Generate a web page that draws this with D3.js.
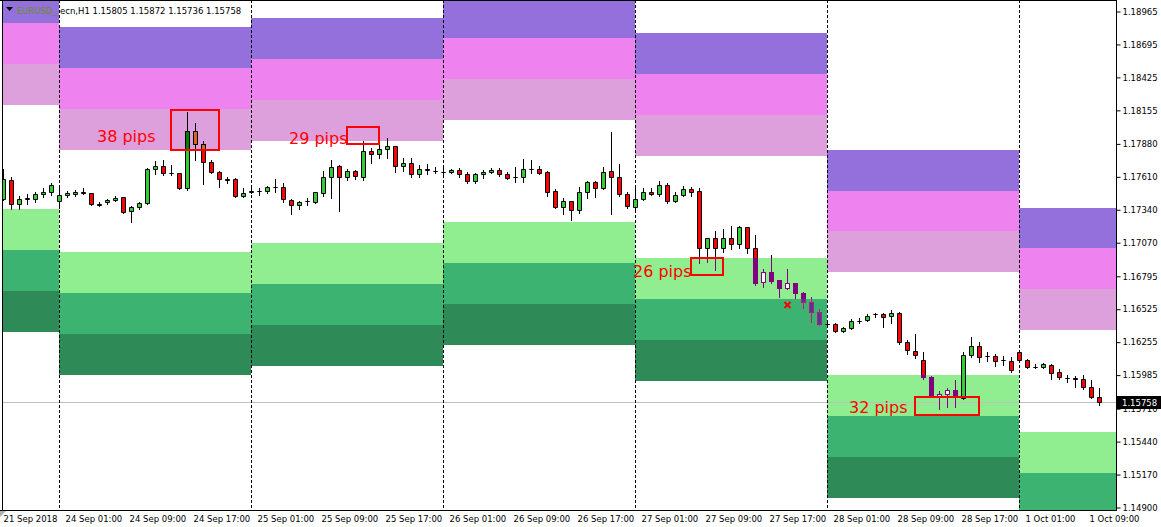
<!DOCTYPE html>
<html><head><meta charset="utf-8">
<script src="https://cdn.jsdelivr.net/npm/d3@7"></script>
<style>
body{margin:0;background:#fff;overflow:hidden;}
svg{display:block;}
text{font-family:"DejaVu Sans",Verdana,sans-serif;}
</style>
</head><body>
<svg id="c" width="1161" height="527"></svg>
<script>
// ---------------- DATA ----------------
const symbolName = "EURUSD_";
const headerText = "ecn,H1  1.15805 1.15872 1.15736 1.15758";
const opens = [1.17424,1.17580,1.17383,1.17424,1.17424,1.17465,1.17481,1.17408,1.17457,1.17465,
1.17481,1.17473,1.17383,1.17399,1.17416,1.17440,1.17326,1.17358,1.17391,1.17670,
1.17694,1.17637,1.17637,1.17514,1.17981,1.17875,1.17727,1.17645,1.17588,1.17588,
1.17449,1.17481,1.17490,1.17490,1.17522,1.17522,1.17416,1.17375,1.17408,1.17399,
1.17473,1.17604,1.17694,1.17604,1.17654,1.17604,1.17817,1.17793,1.17834,1.17858,
1.17694,1.17719,1.17629,1.17670,1.17654,1.17645,1.17645,1.17662,1.17629,1.17572,
1.17629,1.17645,1.17662,1.17629,1.17604,1.17604,1.17670,1.17670,1.17645,1.17490,
1.17358,1.17408,1.17334,1.17481,1.17563,1.17514,1.17654,1.17604,1.17465,1.17358,
1.17424,1.17481,1.17465,1.17539,1.17408,1.17457,1.17506,1.17490,1.17022,1.17104,
1.17022,1.17104,1.17055,1.17195,1.17022,1.16744,1.16826,1.16760,1.16695,1.16736,
1.16654,1.16580,1.16498,1.16400,1.16400,1.16342,1.16367,1.16424,1.16432,1.16481,
1.16481,1.16465,1.16490,1.16252,1.16178,1.16104,1.15965,1.15809,1.15826,1.15859,
1.15793,1.16145,1.16219,1.16137,1.16137,1.16104,1.16096,1.16170,1.16104,1.16047,
1.16047,1.16063,1.16006,1.15957,1.15957,1.15949,1.15883,1.15805];
const highs = [1.17670,1.17604,1.17449,1.17465,1.17481,1.17514,1.17555,1.17514,1.17490,1.17498,
1.17514,1.17473,1.17399,1.17424,1.17449,1.17440,1.17367,1.17399,1.17678,1.17735,
1.17744,1.17703,1.17637,1.18137,1.18047,1.17899,1.17744,1.17654,1.17604,1.17596,
1.17514,1.17514,1.17514,1.17531,1.17588,1.17555,1.17424,1.17408,1.17432,1.17481,
1.17654,1.17744,1.17703,1.17670,1.17662,1.17899,1.17842,1.17867,1.17924,1.17858,
1.17760,1.17760,1.17703,1.17711,1.17686,1.17678,1.17670,1.17678,1.17645,1.17637,
1.17662,1.17678,1.17678,1.17645,1.17686,1.17752,1.17744,1.17694,1.17654,1.17506,
1.17432,1.17408,1.17522,1.17572,1.17572,1.17686,1.17973,1.17711,1.17481,1.17514,
1.17514,1.17514,1.17572,1.17555,1.17481,1.17531,1.17522,1.17514,1.17104,1.17162,
1.17178,1.17203,1.17203,1.17195,1.17129,1.16850,1.16965,1.16760,1.16850,1.16736,
1.16662,1.16621,1.16522,1.16416,1.16408,1.16375,1.16440,1.16449,1.16481,1.16490,
1.16490,1.16514,1.16498,1.16268,1.16318,1.16170,1.15973,1.15850,1.15875,1.15941,
1.16170,1.16293,1.16252,1.16170,1.16154,1.16137,1.16129,1.16186,1.16113,1.16072,
1.16080,1.16072,1.16031,1.15982,1.15973,1.15982,1.15941,1.15872];
const lows = [1.17416,1.17342,1.17342,1.17383,1.17399,1.17440,1.17457,1.17350,1.17440,1.17449,
1.17465,1.17375,1.17367,1.17383,1.17408,1.17309,1.17236,1.17342,1.17383,1.17629,
1.17621,1.17621,1.17506,1.17498,1.17744,1.17547,1.17637,1.17522,1.17555,1.17440,
1.17440,1.17473,1.17457,1.17473,1.17481,1.17399,1.17301,1.17342,1.17375,1.17391,
1.17449,1.17432,1.17326,1.17580,1.17588,1.17580,1.17719,1.17760,1.17760,1.17645,
1.17654,1.17604,1.17604,1.17629,1.17637,1.17621,1.17637,1.17604,1.17555,1.17555,
1.17596,1.17637,1.17613,1.17588,1.17563,1.17563,1.17637,1.17629,1.17449,1.17350,
1.17301,1.17252,1.17309,1.17432,1.17440,1.17506,1.17301,1.17449,1.17350,1.17342,
1.17416,1.17457,1.17449,1.17391,1.17399,1.17449,1.17449,1.16899,1.16908,1.16842,
1.16990,1.17014,1.17022,1.16981,1.16719,1.16703,1.16736,1.16621,1.16686,1.16613,
1.16531,1.16416,1.16391,1.16383,1.16334,1.16334,1.16359,1.16408,1.16424,1.16457,
1.16375,1.16408,1.16236,1.16154,1.16121,1.15949,1.15809,1.15703,1.15719,1.15719,
1.15785,1.16129,1.16088,1.16096,1.16055,1.16063,1.16006,1.16088,1.16039,1.16039,
1.16039,1.15949,1.15949,1.15924,1.15883,1.15867,1.15793,1.15736];
const closes = [1.17588,1.17383,1.17424,1.17432,1.17465,1.17481,1.17539,1.17457,1.17473,1.17481,
1.17473,1.17383,1.17375,1.17416,1.17432,1.17317,1.17358,1.17391,1.17670,1.17694,
1.17637,1.17635,1.17514,1.17981,1.17875,1.17727,1.17645,1.17588,1.17580,1.17449,
1.17473,1.17490,1.17488,1.17522,1.17520,1.17424,1.17375,1.17399,1.17406,1.17481,
1.17604,1.17686,1.17604,1.17654,1.17613,1.17817,1.17793,1.17834,1.17858,1.17694,
1.17719,1.17629,1.17670,1.17662,1.17652,1.17643,1.17662,1.17629,1.17572,1.17629,
1.17645,1.17662,1.17629,1.17596,1.17602,1.17670,1.17668,1.17637,1.17481,1.17358,
1.17408,1.17334,1.17481,1.17563,1.17514,1.17645,1.17604,1.17465,1.17367,1.17424,
1.17481,1.17465,1.17539,1.17408,1.17457,1.17506,1.17481,1.17022,1.17104,1.17022,
1.17104,1.17055,1.17195,1.17022,1.16736,1.16826,1.16752,1.16695,1.16736,1.16654,
1.16580,1.16498,1.16400,1.16398,1.16342,1.16367,1.16424,1.16422,1.16465,1.16479,
1.16457,1.16490,1.16252,1.16186,1.16145,1.15965,1.15818,1.15826,1.15859,1.15801,
1.16145,1.16219,1.16129,1.16135,1.16096,1.16102,1.16023,1.16104,1.16047,1.16045,
1.16072,1.15998,1.15965,1.15955,1.15949,1.15883,1.15801,1.15758];

const timeLabels = ["21 Sep 2018","24 Sep 01:00","24 Sep 09:00","24 Sep 17:00","25 Sep 01:00","25 Sep 09:00",
"25 Sep 17:00","26 Sep 01:00","26 Sep 09:00","26 Sep 17:00","27 Sep 01:00","27 Sep 09:00","27 Sep 17:00",
"28 Sep 01:00","28 Sep 09:00","28 Sep 17:00","1 Oct 01:00","1 Oct 09:00"];
const timeLabelBars = [0,7,15,23,31,39,47,55,63,71,79,87,95,103,111,119,127,135];
const priceTicks = [1.18965,1.18695,1.18425,1.18155,1.17880,1.17610,1.17340,1.17070,1.16795,
1.16525,1.16255,1.15985,1.15710,1.15440,1.15170,1.14900];
const bidPrice = 1.15758;

// daily zones: bar range, supply band edges (top->bottom), demand band edges (top->bottom)
const zoneStartBar = [-1,7,31,55,79,103,127];
const zoneEndBar   = [7,31,55,79,103,127,141];
const supplyLevels = [
 [1.19203,1.18867,1.18531,1.18194],
 [1.18834,1.18498,1.18162,1.17826],
 [1.18908,1.18571,1.18235,1.17899],
 [1.19080,1.18744,1.18408,1.18072],
 [1.18785,1.18449,1.18112,1.17776],
 [1.17826,1.17490,1.17162,1.16826],
 [1.17350,1.17022,1.16686,1.16350]];
const demandLevels = [
 [1.17342,1.17006,1.16670,1.16334],
 [1.16990,1.16654,1.16318,1.15982],
 [1.17063,1.16727,1.16391,1.16055],
 [1.17236,1.16900,1.16563,1.16227],
 [1.16940,1.16604,1.16268,1.15932],
 [1.15982,1.15645,1.15309,1.14973],
 [1.15514,1.15178,1.14842,1.14506]];

// annotation boxes
const pipBoxBar0 = [21,43,86,114];
const pipBoxBar1 = [27,47,90,122];
const pipBoxHigh = [1.18153,1.18014,1.16940,1.15801];
const pipBoxLow  = [1.17826,1.17875,1.16801,1.15654];
const pipLabels  = ["38 pips","29 pips","26 pips","32 pips"];
const pipLabelBar = [11.75,35.75,78.75,105.75];
const pipLabelPrice = [1.17891,1.17875,1.16785,1.15670];
const crossBar = 98, crossPrice = 1.16555;

// ---------------- DRAW ----------------
const PL=2, PT=0, PR=1116, PB=510;
const x = d3.scaleLinear().domain([0,137]).range([3,1099]);
const y = d3.scaleLinear().domain([1.18965,1.14900]).range([11,507]);
const svg = d3.select("#c");
svg.append("rect").attr("width",1161).attr("height",527).attr("fill","#fff");
const defs = svg.append("defs");
defs.append("clipPath").attr("id","plotClip").append("rect")
  .attr("x",PL).attr("y",PT).attr("width",PR-PL).attr("height",PB-PT);
const g = svg.append("g").attr("clip-path","url(#plotClip)");

const supplyColors = ["#9370DB","#EE82EE","#DDA0DD"];
const demandColors = ["#90EE90","#3CB371","#2E8B57"];
const ry = v => Math.round(y(v));

zoneStartBar.forEach((s,k)=>{
  const x0 = Math.round(x(s)), x1 = Math.round(x(zoneEndBar[k]));
  for(let b=0;b<3;b++){
    const s0=ry(supplyLevels[k][b]), s1=ry(supplyLevels[k][b+1]);
    g.append("rect").attr("x",x0).attr("y",s0).attr("width",x1-x0).attr("height",s1-s0).attr("fill",supplyColors[b]);
    const d0=ry(demandLevels[k][b]), d1=ry(demandLevels[k][b+1]);
    g.append("rect").attr("x",x0).attr("y",d0).attr("width",x1-x0).attr("height",d1-d0).attr("fill",demandColors[b]);
  }
});

// bid line
g.append("line").attr("x1",PL).attr("x2",PR).attr("y1",ry(bidPrice)+0.5).attr("y2",ry(bidPrice)+0.5)
  .attr("stroke","#C0C0C0").attr("stroke-width",1);

// separators
zoneStartBar.slice(1).forEach(s=>{
  const xx = Math.round(x(s))+0.5;
  g.append("line").attr("x1",xx).attr("x2",xx).attr("y1",PT).attr("y2",PB)
   .attr("stroke","#000").attr("stroke-width",1).attr("stroke-dasharray","3,2");
});

// candles
const bars = d3.range(opens.length);
function bodyPath(i){
  const cx = Math.round(x(i));
  const t = ry(Math.max(opens[i],closes[i]))+0.5, b = ry(Math.min(opens[i],closes[i]))+0.5;
  return `M${cx-1.5},${t}H${cx+2.5}V${b}H${cx-1.5}Z`;
}
function drawCandles(sel, idx, style){
  sel.selectAll(null).data(idx).enter().append("line")
    .attr("x1",i=>Math.round(x(i))+0.5).attr("x2",i=>Math.round(x(i))+0.5)
    .attr("y1",i=>ry(highs[i])).attr("y2",i=>ry(lows[i])+1)
    .attr("stroke",style.wick).attr("stroke-width",1);
  sel.selectAll(null).data(idx).enter().append("path")
    .attr("d",bodyPath)
    .attr("fill",i=>closes[i]>=opens[i]?style.bull:style.bear)
    .attr("stroke",style.edge).attr("stroke-width",1);
}
drawCandles(g, bars, {wick:"#000",edge:"#000",bull:"#32CD32",bear:"#FF0000"});

// candle parts inside zones
const bandStyles = [
  {wick:"#800080",edge:"#800080",bull:"#FFFFFF",bear:"#800080"},
  {wick:"#C71585",edge:"#C71585",bull:"#FFFFFF",bear:"#483D8B"},
  {wick:"#C71585",edge:"#C71585",bull:"#FFFFFF",bear:"#483D8B"}];
zoneStartBar.forEach((s,k)=>{
  const idx = bars.filter(i=>i>=s && i<zoneEndBar[k]);
  const x0 = Math.round(x(s)), x1 = Math.round(x(zoneEndBar[k]));
  const sid = "sz"+k;
  defs.append("clipPath").attr("id",sid).append("rect").attr("x",x0).attr("width",x1-x0)
    .attr("y",ry(supplyLevels[k][0])).attr("height",ry(supplyLevels[k][3])-ry(supplyLevels[k][0]));
  drawCandles(g.append("g").attr("clip-path",`url(#${sid})`), idx, {wick:"#000",edge:"#000",bull:"#008000",bear:"#D2691E"});
  for(let b=0;b<3;b++){
    const did = "dz"+k+"_"+b;
    defs.append("clipPath").attr("id",did).append("rect").attr("x",x0).attr("width",x1-x0)
      .attr("y",ry(demandLevels[k][b])).attr("height",ry(demandLevels[k][b+1])-ry(demandLevels[k][b]));
    drawCandles(g.append("g").attr("clip-path",`url(#${did})`), idx.filter(i=>closes[i]<opens[i]||i!==120), bandStyles[b]);
  }
});

// pip boxes
pipLabels.forEach((lab,k)=>{
  const x0=Math.round(x(pipBoxBar0[k])), x1=Math.round(x(pipBoxBar1[k]));
  const y0=ry(pipBoxHigh[k]), y1=ry(pipBoxLow[k]);
  g.append("rect").attr("x",x0).attr("y",y0).attr("width",x1-x0).attr("height",y1-y0)
    .attr("fill","none").attr("stroke","#FF0000").attr("stroke-width",2);
  g.append("text").attr("x",x(pipLabelBar[k])).attr("y",y(pipLabelPrice[k]))
    .attr("font-family","'Liberation Sans',Arial,sans-serif").attr("font-size",16).attr("fill","#FF0000").text(lab);
});
// cross marker
{
  const cx=x(crossBar)+0.5, cy=y(crossPrice);
  g.append("path").attr("d",`M${cx-3},${cy-3}L${cx+3},${cy+3}M${cx+3},${cy-3}L${cx-3},${cy+3}`)
   .attr("stroke","#FF0000").attr("stroke-width",2);
}

// frame
svg.append("line").attr("x1",PL+0.5).attr("x2",PL+0.5).attr("y1",PT).attr("y2",PB).attr("stroke","#000");
svg.append("line").attr("x1",0).attr("x2",PR).attr("y1",PT+0.5).attr("y2",PT+0.5).attr("stroke","#000");
svg.append("line").attr("x1",0).attr("x2",PR+1).attr("y1",PB+0.5).attr("y2",PB+0.5).attr("stroke","#000");
svg.append("line").attr("x1",PR+0.5).attr("x2",PR+0.5).attr("y1",PT).attr("y2",PB+1).attr("stroke","#000");
svg.append("path").attr("d","M0,511L6,511L0,517Z").attr("fill","#B0B0B0");

// right price axis
const yAxis = d3.axisRight(y).tickValues(priceTicks).tickSize(4).tickPadding(2)
  .tickFormat(d3.format(".5f"));
const ya = svg.append("g").attr("transform",`translate(${PR+0.5},0.5)`).call(yAxis);
ya.select(".domain").remove();
ya.selectAll("line").attr("stroke","#000");
ya.selectAll("text").attr("font-size","8.5px").attr("fill","#000")
  .attr("font-family","'DejaVu Sans',Verdana,sans-serif").attr("x",6);

// bid label
{
  const by = ry(bidPrice);
  svg.append("rect").attr("x",PR+1).attr("y",by-6).attr("width",44).attr("height",13).attr("fill","#000");
  svg.append("text").attr("x",PR+6).attr("y",by+4).attr("font-size","8.5px").attr("fill","#fff").text(d3.format(".5f")(bidPrice));
}

// bottom time axis
const xAxis = d3.axisBottom(x).tickValues(timeLabelBars).tickSize(0).tickPadding(5)
  .tickFormat((d,i)=>timeLabels[i]);
const xa = svg.append("g").attr("transform",`translate(0,${PB+0.5})`).call(xAxis);
xa.select(".domain").remove();
xa.selectAll("text").attr("font-size","8.5px").attr("fill","#000").attr("text-anchor","start")
  .attr("font-family","'DejaVu Sans',Verdana,sans-serif")
  .attr("dx",(d,i)=>i===0?0:6);

// header
svg.append("path").attr("d","M6,7L13,7L9.5,11Z").attr("fill","#000");
svg.append("text").attr("x",17).attr("y",14).attr("font-size","8.5px").attr("fill","#6B8E23").text(symbolName);
svg.append("text").attr("x",60).attr("y",14).attr("font-size","8.5px").attr("fill","#000").text(headerText);
</script>
</body></html>
